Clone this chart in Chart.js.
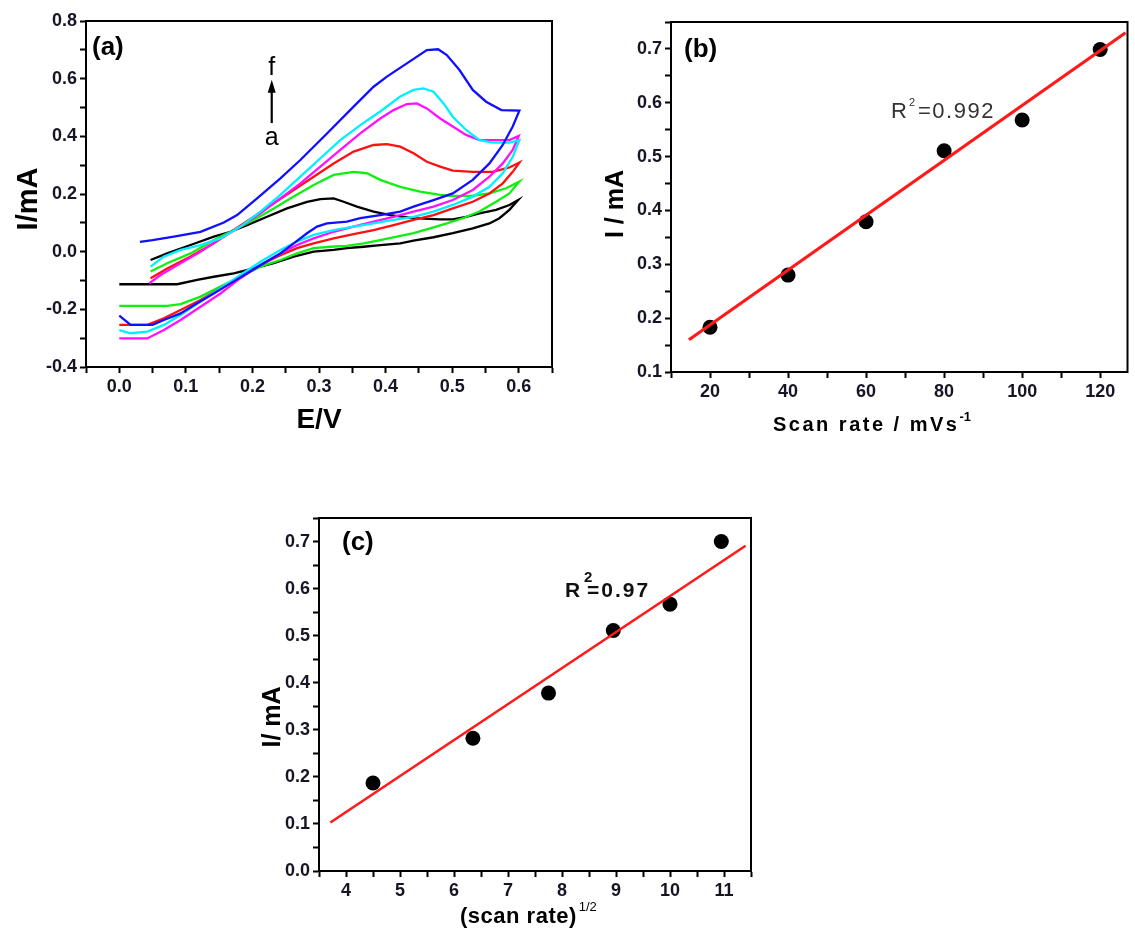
<!DOCTYPE html>
<html><head><meta charset="utf-8">
<script src="https://cdn.jsdelivr.net/npm/chart.js@4.4.1/dist/chart.umd.min.js"></script>
<style>
html,body{margin:0;padding:0;background:#fff;width:1135px;height:929px;overflow:hidden}
canvas{position:absolute}
</style></head><body>
<canvas id="ca" width="565" height="460" style="left:0;top:0"></canvas>
<canvas id="cb" width="570" height="460" style="left:565px;top:0"></canvas>
<canvas id="cc" width="620" height="459" style="left:230px;top:470px"></canvas>
<script>
const FONT = '"Liberation Sans", Arial, Helvetica, sans-serif';

// ---------- Panel (a): cyclic voltammograms, E (V) vs I (mA); forward branch then reverse branch
const curveA_E = [0.047,0.072,0.107,0.142,0.167,0.192,0.222,0.252,0.282,0.302,0.322,0.337,0.357,0.382,0.407,0.442,0.482,0.501,0.521,0.541,0.566,0.586,0.599,0.586,0.571,0.556,0.531,0.501,0.472,0.442,0.422,0.392,0.367,0.342,0.322,0.292,0.262,0.232,0.202,0.172,0.142,0.117,0.087,0.042,0.000];
const curveA_I = [-0.029,-0.006,0.023,0.052,0.069,0.092,0.121,0.150,0.173,0.182,0.185,0.173,0.156,0.139,0.127,0.116,0.112,0.112,0.121,0.133,0.145,0.162,0.179,0.145,0.116,0.098,0.081,0.064,0.050,0.038,0.029,0.023,0.017,0.012,0.006,0.000,-0.017,-0.040,-0.058,-0.075,-0.087,-0.098,-0.113,-0.113,-0.113];

const curveB_E = [0.047,0.072,0.107,0.142,0.172,0.202,0.232,0.262,0.292,0.322,0.352,0.372,0.392,0.422,0.452,0.482,0.501,0.531,0.556,0.581,0.601,0.586,0.566,0.541,0.516,0.492,0.467,0.442,0.417,0.392,0.367,0.342,0.317,0.292,0.267,0.242,0.212,0.182,0.152,0.122,0.092,0.072,0.000];
const curveB_I = [-0.069,-0.040,-0.006,0.040,0.075,0.110,0.150,0.191,0.231,0.266,0.277,0.272,0.249,0.225,0.208,0.197,0.193,0.194,0.202,0.220,0.243,0.202,0.173,0.139,0.116,0.098,0.081,0.064,0.052,0.040,0.029,0.020,0.017,0.012,-0.006,-0.029,-0.052,-0.087,-0.121,-0.156,-0.182,-0.188,-0.188];

const curveC_E = [0.047,0.072,0.107,0.142,0.172,0.202,0.232,0.262,0.292,0.322,0.352,0.382,0.402,0.422,0.442,0.462,0.482,0.501,0.531,0.561,0.586,0.601,0.591,0.576,0.556,0.531,0.501,0.472,0.442,0.412,0.382,0.352,0.322,0.292,0.267,0.242,0.212,0.182,0.152,0.122,0.092,0.067,0.042,0.000];
const curveC_I = [-0.092,-0.058,-0.017,0.029,0.075,0.121,0.168,0.214,0.260,0.306,0.347,0.370,0.373,0.364,0.341,0.312,0.295,0.281,0.277,0.277,0.292,0.309,0.277,0.237,0.202,0.173,0.150,0.127,0.110,0.092,0.075,0.061,0.046,0.029,0.012,-0.012,-0.046,-0.087,-0.127,-0.168,-0.202,-0.231,-0.254,-0.254];

const curveD_E = [0.045,0.062,0.092,0.122,0.152,0.182,0.212,0.242,0.272,0.302,0.332,0.362,0.392,0.412,0.432,0.447,0.462,0.482,0.501,0.521,0.541,0.571,0.586,0.600,0.591,0.576,0.556,0.531,0.501,0.472,0.442,0.412,0.382,0.352,0.322,0.292,0.267,0.242,0.212,0.182,0.152,0.122,0.092,0.067,0.042,0.000];
const curveD_I = [-0.110,-0.081,-0.040,0.000,0.046,0.087,0.133,0.185,0.237,0.295,0.353,0.410,0.462,0.491,0.512,0.514,0.497,0.462,0.434,0.405,0.387,0.387,0.387,0.401,0.353,0.306,0.260,0.214,0.179,0.156,0.139,0.121,0.104,0.087,0.069,0.046,0.023,-0.006,-0.046,-0.092,-0.145,-0.191,-0.237,-0.272,-0.301,-0.301];

const curveE_E = [0.047,0.067,0.092,0.122,0.152,0.182,0.212,0.242,0.272,0.302,0.332,0.362,0.392,0.422,0.442,0.457,0.472,0.487,0.501,0.521,0.541,0.561,0.586,0.601,0.591,0.576,0.556,0.531,0.501,0.472,0.442,0.412,0.382,0.352,0.322,0.292,0.267,0.242,0.212,0.182,0.152,0.122,0.092,0.067,0.042,0.017,0.000];
const curveE_I = [-0.052,-0.017,0.006,0.023,0.046,0.087,0.139,0.197,0.260,0.324,0.387,0.439,0.486,0.538,0.561,0.566,0.555,0.514,0.468,0.422,0.387,0.378,0.378,0.387,0.329,0.272,0.225,0.191,0.162,0.139,0.121,0.110,0.098,0.087,0.075,0.058,0.035,0.006,-0.035,-0.081,-0.127,-0.173,-0.220,-0.254,-0.277,-0.283,-0.272];

const curveF_E = [0.031,0.050,0.082,0.122,0.157,0.177,0.207,0.242,0.272,0.312,0.352,0.382,0.402,0.432,0.462,0.479,0.492,0.511,0.531,0.551,0.574,0.601,0.591,0.576,0.556,0.531,0.501,0.472,0.442,0.422,0.392,0.362,0.342,0.312,0.297,0.282,0.262,0.242,0.217,0.192,0.167,0.142,0.117,0.092,0.067,0.050,0.017,0.000];
const curveF_I = [0.034,0.040,0.052,0.069,0.101,0.127,0.185,0.254,0.318,0.410,0.503,0.572,0.607,0.653,0.699,0.702,0.682,0.630,0.561,0.520,0.491,0.489,0.434,0.370,0.306,0.249,0.202,0.179,0.156,0.139,0.127,0.116,0.104,0.098,0.087,0.064,0.029,-0.006,-0.040,-0.075,-0.110,-0.145,-0.179,-0.214,-0.237,-0.254,-0.254,-0.222];

// ---------- Panel (b): peak current vs scan rate
const scanRate = [20, 40, 60, 80, 100, 120];
const peakCurrentB = [0.183, 0.280, 0.379, 0.511, 0.568, 0.699];
const fitB_X = [14.6, 126.5];
const fitB_Y = [0.160, 0.730];

// ---------- Panel (c): peak current vs (scan rate)^1/2
const sqrtScanRate = [4.5, 6.35, 7.75, 8.95, 10.0, 10.95];
const peakCurrentC = [0.187, 0.282, 0.378, 0.511, 0.567, 0.700];
const fitC_X = [3.71, 11.40];
const fitC_Y = [0.103, 0.691];

// ---------- tick labels
const aXTickLabels = ['0.0','0.1','0.2','0.3','0.4','0.5','0.6'];
const aYTickLabels = ['-0.4','-0.2','0.0','0.2','0.4','0.6','0.8'];
const bXTickLabels = ['20','40','60','80','100','120'];
const bYTickLabels = ['0.1','0.2','0.3','0.4','0.5','0.6','0.7'];
const cXTickLabels = ['4','5','6','7','8','9','10','11'];
const cYTickLabels = ['0.0','0.1','0.2','0.3','0.4','0.5','0.6','0.7'];

function zip(xs, ys){ return xs.map((x,i)=>({x:x, y:ys[i]})); }

function makeAxis(min, max, step, labels, dim, size){
  return {
    type:'linear', min:min, max:max,
    afterFit(s){ s[dim] = size; },
    ticks:{
      stepSize:step, autoSkip:false, includeBounds:false, maxRotation:0, minRotation:0,
      padding:3, color:'#151525',
      font:{family:FONT, size:18, weight:'bold'},
      callback(v){ const l = labels.find(s => Math.abs(parseFloat(s)-v) < 1e-6); return l === undefined ? '' : l; }
    },
    grid:{ drawOnChartArea:false, drawTicks:true, tickLength:6, tickWidth:2, tickColor:'#000', color:'#000' },
    border:{ display:true, color:'#000', width:2 },
    title:{display:false}
  };
}

const framePlugin = {
  id:'frame',
  afterDraw(chart){
    const {ctx, chartArea:a} = chart;
    ctx.save();
    ctx.strokeStyle = '#000'; ctx.lineWidth = 2;
    ctx.strokeRect(a.left, a.top, a.right-a.left, a.bottom-a.top);
    ctx.restore();
  }
};

function txt(ctx, t, x, y, font, opt){
  opt = opt || {};
  ctx.save();
  ctx.font = font;
  ctx.fillStyle = opt.color || '#111';
  ctx.textAlign = opt.align || 'left';
  ctx.textBaseline = opt.baseline || 'alphabetic';
  if ('letterSpacing' in ctx) ctx.letterSpacing = (opt.ls || 0) + 'px';
  if (opt.rot){ ctx.translate(x, y); ctx.rotate(opt.rot); ctx.fillText(t, 0, 0); }
  else ctx.fillText(t, x, y);
  const w = ctx.measureText(t).width;
  ctx.restore();
  return w;
}

function annot(fn){ return { id:'annot', afterDraw(chart){ fn(chart.ctx, chart); } }; }

const baseOpts = (pad, xAxis, yAxis) => ({
  responsive:false, animation:false, devicePixelRatio:1,
  layout:{ padding:pad },
  plugins:{ legend:{display:false}, tooltip:{enabled:false} },
  scales:{ x:xAxis, y:yAxis }
});

// ---------- Chart (a)
const cvSets = [
  {E:curveF_E, I:curveF_I, color:'#1010ff', order:0},
  {E:curveE_E, I:curveE_I, color:'#00f0ff', order:1},
  {E:curveD_E, I:curveD_I, color:'#ff10ff', order:2},
  {E:curveC_E, I:curveC_I, color:'#ff1010', order:3},
  {E:curveB_E, I:curveB_I, color:'#10f010', order:4},
  {E:curveA_E, I:curveA_I, color:'#000000', order:5}
];
new Chart(document.getElementById('ca'), {
  type:'scatter',
  data:{ datasets: cvSets.map(s => ({
    data: zip(s.E, s.I), showLine:true, borderColor:s.color, borderWidth:2.3,
    pointRadius:0, tension:0, order:s.order
  })) },
  options: baseOpts({left:0, top:21, right:13, bottom:0},
    makeAxis(-0.05, 0.65, 0.05, aXTickLabels, 'height', 93),
    makeAxis(-0.4, 0.8, 0.1, aYTickLabels, 'width', 86)),
  plugins:[framePlugin, annot((ctx, ch) => {
    const xs = ch.scales.x, ys = ch.scales.y;
    txt(ctx, '(a)', 92, 55, 'bold 26px '+FONT, {color:'#000'});
    txt(ctx, 'I/mA', 37, 199, 'bold 29px '+FONT, {color:'#000', rot:-Math.PI/2, align:'center'});
    txt(ctx, 'E/V', 319, 428, 'bold 28px '+FONT, {color:'#000', align:'center'});
    const ax = xs.getPixelForValue(0.229);
    txt(ctx, 'f', ax, ys.getPixelForValue(0.613), '25px '+FONT, {color:'#000', align:'center'});
    txt(ctx, 'a', ax, ys.getPixelForValue(0.370), '25px '+FONT, {color:'#000', align:'center'});
    const yTop = ys.getPixelForValue(0.596), yBot = ys.getPixelForValue(0.446);
    ctx.save();
    ctx.strokeStyle = '#000'; ctx.fillStyle = '#000'; ctx.lineWidth = 2.2;
    ctx.beginPath(); ctx.moveTo(ax, yBot); ctx.lineTo(ax, yTop + 8); ctx.stroke();
    ctx.beginPath(); ctx.moveTo(ax, yTop); ctx.lineTo(ax-4, yTop+13); ctx.lineTo(ax+4, yTop+13); ctx.closePath(); ctx.fill();
    ctx.restore();
  })]
});

// ---------- Chart (b)
new Chart(document.getElementById('cb'), {
  type:'scatter',
  data:{ datasets:[
    { type:'line', data: zip(fitB_X, fitB_Y), borderColor:'#ff1a1a', borderWidth:3.2, pointRadius:0, tension:0, order:0 },
    { data: zip(scanRate, peakCurrentB), backgroundColor:'#000', borderWidth:0, pointRadius:7.5, order:1 }
  ]},
  options: baseOpts({left:0, top:22, right:3, bottom:0},
    makeAxis(10, 127, 10, bXTickLabels, 'height', 88),
    makeAxis(0.1, 0.75, 0.05, bYTickLabels, 'width', 106)),
  plugins:[framePlugin, annot((ctx, ch) => {
    txt(ctx, '(b)', 119, 57, 'bold 26px '+FONT, {color:'#000'});
    txt(ctx, 'I / mA', 58, 204, 'bold 25px '+FONT, {color:'#000', rot:-Math.PI/2, align:'center'});
    const w = txt(ctx, 'Scan rate / mVs', 208, 431, 'bold 20px '+FONT, {color:'#000', ls:2.5});
    txt(ctx, '-1', 208 + w, 421, 'bold 13px '+FONT, {color:'#000'});
    txt(ctx, 'R', 326, 118, '22px '+FONT, {color:'#333'});
    txt(ctx, '2', 344, 106, '11px '+FONT, {color:'#333'});
    txt(ctx, '=0.992', 353, 118, '22px '+FONT, {color:'#333', ls:1.5});
  })]
});

// ---------- Chart (c)
new Chart(document.getElementById('cc'), {
  type:'scatter',
  data:{ datasets:[
    { type:'line', data: zip(fitC_X, fitC_Y), borderColor:'#ff1a1a', borderWidth:2.6, pointRadius:0, tension:0, order:0 },
    { data: zip(sqrtScanRate, peakCurrentC), backgroundColor:'#000', borderWidth:0, pointRadius:7.5, order:1 }
  ]},
  options: baseOpts({left:0, top:48, right:99, bottom:0},
    makeAxis(3.5, 11.5, 0.5, cXTickLabels, 'height', 58),
    makeAxis(0, 0.75, 0.05, cYTickLabels, 'width', 89)),
  plugins:[framePlugin, annot((ctx, ch) => {
    txt(ctx, '(c)', 112, 80, 'bold 26px '+FONT, {color:'#000'});
    txt(ctx, 'I/ mA', 50, 247, 'bold 25px '+FONT, {color:'#000', rot:-Math.PI/2, align:'center'});
    const w = txt(ctx, '(scan rate)', 230, 453, 'bold 22px '+FONT, {color:'#000', ls:0.5});
    txt(ctx, '1/2', 232 + w, 441, '13px '+FONT, {color:'#000'});
    txt(ctx, 'R', 335, 127, 'bold 21px '+FONT, {color:'#111'});
    txt(ctx, '2', 354, 112, 'bold 15px '+FONT, {color:'#111'});
    txt(ctx, '=0.97', 357, 127, 'bold 21px '+FONT, {color:'#111', ls:2});
  })]
});
</script>
</body></html>
